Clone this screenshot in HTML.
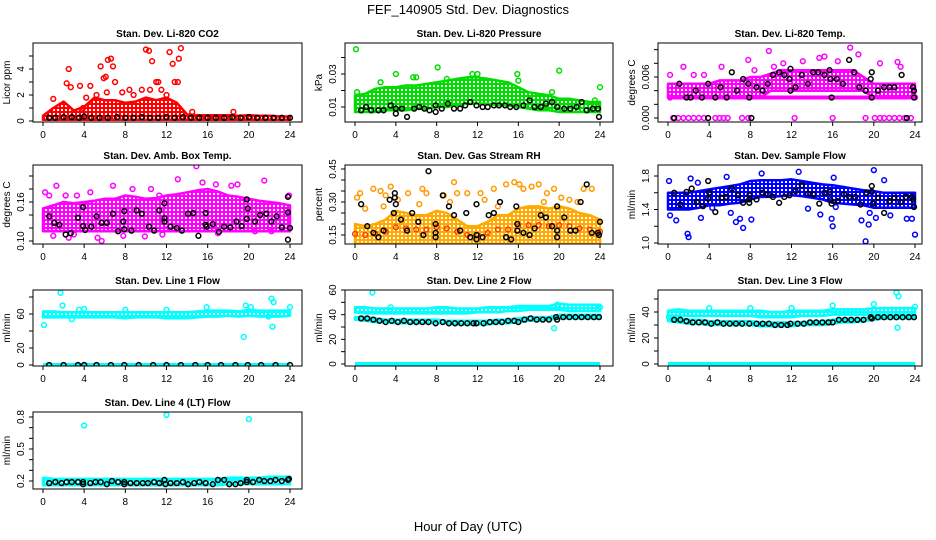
<!DOCTYPE html>
<html><head><meta charset="utf-8"><style>
html,body{margin:0;padding:0;background:#fff;}
svg{display:block;font-family:"Liberation Sans",sans-serif;}
</style></head><body>
<svg id="chart" width="936" height="540" viewBox="0 0 936 540">
<defs id="defs"></defs>
<text x="468" y="14" text-anchor="middle" font-size="13">FEF_140905  Std. Dev. Diagnostics</text>
<text x="468" y="531" text-anchor="middle" font-size="13">Hour of Day (UTC)</text>
</svg>
<script>
// ---- data (hourly band low/high, scatter points [hour,value], black points [hour,value]) ----
const hours = [0,1,2,3,4,5,6,7,8,9,10,11,12,13,14,15,16,17,18,19,20,21,22,23,24];
const co2Lo = [0.1,0.1,0.1,0.1,0.1,0.1,0.1,0.1,0.1,0.1,0.1,0.1,0.1,0.1,0.1,0.1,0.1,0.1,0.1,0.1,0.1,0.1,0.1,0.1,0.1];
const co2Hi = [0.4,1.0,1.5,0.8,1.1,1.8,1.6,1.6,1.4,1.5,1.8,1.6,1.8,1.4,0.5,0.45,0.45,0.45,0.45,0.4,0.45,0.4,0.4,0.35,0.35];
const co2Pts = [[1,1.7],[2.3,2.9],[2.5,4.0],[2.7,2.6],[3.6,2.7],[4.6,2.7],[5.6,4.2],[6.3,4.7],[6.6,4.8],[6.8,4.2],[5.9,3.3],[6.1,3.4],[7,3.0],[7.7,2.2],[8.4,2.4],[9.6,2.4],[10,5.5],[10.3,5.4],[10.6,4.6],[10.4,2.4],[11,3.0],[11.2,3.0],[11.5,2.4],[12.3,5.3],[12.6,4.4],[12.8,3.0],[13.1,3.0],[13.2,4.8],[13.4,5.6],[5.2,2.0],[6.2,2.2],[18.5,0.7],[4.2,1.8],[8.8,2.0],[12,2.0],[3.9,1.0],[14.5,0.7]];
const co2Blk = [[0.6,0.25],[1.2,0.25],[2,0.3],[2.8,0.3],[3.5,0.25],[4,0.35],[4.7,0.25],[5.5,0.25],[6.3,0.25],[7.2,0.3],[8,0.25],[8.8,0.25],[9.6,0.3],[10.4,0.25],[11.2,0.25],[12,0.3],[12.8,0.25],[13.6,0.3],[14.4,0.25],[15.2,0.25],[16,0.25],[16.8,0.25],[17.6,0.25],[18.4,0.3],[19.2,0.25],[20,0.3],[20.8,0.25],[21.6,0.25],[22.4,0.25],[23.2,0.25],[24,0.25]];

const prLo = [0.007,0.007,0.007,0.008,0.008,0.008,0.009,0.009,0.010,0.010,0.011,0.012,0.012,0.012,0.011,0.011,0.010,0.009,0.008,0.008,0.007,0.007,0.007,0.007,0.007];
const prHi = [0.017,0.018,0.021,0.022,0.022,0.023,0.023,0.024,0.025,0.026,0.027,0.028,0.028,0.027,0.026,0.025,0.022,0.019,0.018,0.017,0.015,0.015,0.014,0.013,0.013];
const prPts = [[0.1,0.045],[8.1,0.034],[4,0.030],[5.7,0.028],[6,0.028],[15.9,0.030],[20,0.032],[24,0.022],[0.2,0.019],[2.5,0.025],[9,0.027],[11.5,0.030],[12,0.030],[16,0.026],[19.3,0.019],[23.5,0.014]];
const prBlk = [[0.6,0.008],[1.1,0.010],[1.6,0.008],[2.3,0.008],[2.8,0.008],[3.5,0.011],[4,0.009],[4,0.006],[4.6,0.009],[5.1,0.004],[5.8,0.009],[6.3,0.010],[6.8,0.009],[7.3,0.008],[7.9,0.011],[7.9,0.007],[8.5,0.009],[9.1,0.012],[9.7,0.009],[10.3,0.009],[10.8,0.011],[11.3,0.013],[11.9,0.011],[12.5,0.010],[13,0.010],[13.6,0.011],[14.1,0.011],[14.7,0.011],[15.2,0.010],[15.8,0.010],[16.5,0.011],[17.1,0.014],[17.6,0.010],[18.2,0.010],[18.7,0.012],[19.3,0.013],[19.8,0.010],[20.5,0.009],[21.1,0.009],[21.7,0.010],[22.2,0.013],[22.7,0.008],[23.3,0.009],[23.8,0.009],[23.9,0.004]];

const tpLo = [0.003,0.003,0.003,0.003,0.003,0.003,0.003,0.003,0.003,0.003,0.004,0.004,0.004,0.004,0.004,0.004,0.004,0.004,0.004,0.004,0.003,0.003,0.003,0.003,0.003];
const tpHi = [0.005,0.005,0.005,0.005,0.005,0.0055,0.0055,0.0055,0.006,0.006,0.0065,0.007,0.007,0.007,0.007,0.007,0.007,0.007,0.007,0.006,0.005,0.005,0.005,0.005,0.005];
const tpPts = [[0.2,0.0063],[1.5,0.0075],[2.5,0.0063],[3.5,0.0063],[5.2,0.0075],[7.8,0.0085],[8.4,0.0070],[9.8,0.0098],[10.3,0.0075],[11.2,0.0080],[13.1,0.0083],[14.7,0.0088],[15.2,0.0090],[16.5,0.0083],[17.7,0.0103],[18.5,0.0093],[20.6,0.0080],[22.3,0.0082],[22.6,0.0075],[0.5,0],[1,0],[1.5,0],[2,0],[2.5,0],[3,0],[3.5,0],[4.6,0],[5,0],[5.4,0],[5.8,0],[7.2,0],[7.8,0],[12.3,0],[16,0],[19.2,0],[20.1,0],[20.6,0],[21,0],[21.5,0],[22,0],[22.5,0],[23,0],[23.6,0],[0.2,0.003],[24,0.003]];
const tpBlk = [[0.6,0],[1.1,0.005],[1.8,0.003],[2.2,0.003],[2.7,0.004],[3.3,0.003],[3.9,0.005],[3.9,0],[4.6,0.003],[5.1,0.0045],[5.7,0.003],[6.2,0.0067],[6.7,0.004],[7.3,0.0057],[7.8,0.005],[7.9,0.003],[8.1,0],[8.6,0.0045],[9.2,0.004],[9.7,0.005],[10.2,0.0063],[10.8,0.0067],[11.3,0.0063],[11.8,0.0057],[11.9,0.0072],[11.9,0.004],[12.4,0.0045],[13,0.0063],[13.6,0.005],[14.1,0.0067],[14.6,0.0067],[15.2,0.0063],[15.7,0.0070],[15.8,0.0057],[15.9,0.003],[16.4,0.0057],[17,0.005],[17.6,0.0085],[18.1,0.0067],[18.6,0.0045],[19.2,0.004],[19.8,0.0067],[19.7,0.0057],[19.8,0.003],[20.4,0.004],[21,0.0045],[21.5,0.0045],[22,0.0045],[22.7,0.0063],[23.2,0],[23.8,0.0045],[23.9,0.004],[23.9,0.003]];

const abLo = [0.115,0.115,0.115,0.115,0.115,0.115,0.115,0.115,0.115,0.115,0.115,0.115,0.115,0.115,0.115,0.115,0.115,0.115,0.115,0.115,0.115,0.115,0.115,0.115,0.115];
const abHi = [0.150,0.155,0.160,0.158,0.160,0.162,0.165,0.165,0.170,0.168,0.165,0.166,0.170,0.172,0.175,0.178,0.180,0.176,0.170,0.168,0.165,0.162,0.160,0.158,0.155];
const abPts = [[0.2,0.175],[1.3,0.185],[0.6,0.170],[2.5,0.105],[3.3,0.170],[5.3,0.105],[5.7,0.100],[6.8,0.185],[8.7,0.180],[13.1,0.195],[14.9,0.215],[15.5,0.190],[18.3,0.185],[18.9,0.187],[21.5,0.193],[10.5,0.180],[11.3,0.170],[16.8,0.187],[17,0.112],[1,0.108],[3,0.110],[7.8,0.108],[9.9,0.107],[11.6,0.110],[12,0.118],[20.6,0.115],[22.2,0.115],[4.6,0.175],[2.2,0.170],[23.9,0.170]];
const abBlk = [[0.6,0.138],[1.1,0.128],[1.6,0.125],[2.2,0.110],[2.7,0.112],[3.4,0.136],[3.9,0.152],[3.9,0.123],[4.1,0.117],[4.7,0.122],[5.2,0.138],[5.7,0.128],[6.2,0.128],[6.8,0.142],[7.3,0.115],[7.9,0.146],[7.8,0.130],[7.9,0.118],[8.6,0.116],[9.1,0.147],[9.6,0.142],[10.3,0.122],[10.8,0.116],[11.3,0.147],[11.8,0.158],[11.8,0.135],[11.8,0.130],[12.4,0.122],[13,0.120],[13.5,0.116],[14.1,0.142],[14.6,0.143],[15.1,0.108],[15.8,0.143],[15.8,0.125],[15.9,0.122],[16.5,0.126],[17.1,0.114],[17.6,0.122],[18.2,0.121],[18.8,0.130],[19.3,0.123],[19.8,0.164],[19.8,0.134],[19.9,0.150],[20.6,0.130],[21.1,0.140],[21.7,0.142],[22.2,0.130],[22.7,0.138],[23.2,0.121],[23.8,0.168],[23.8,0.144],[24,0.120],[23.8,0.102]];

const rhLo = [0.11,0.11,0.11,0.11,0.11,0.11,0.11,0.11,0.11,0.11,0.11,0.11,0.11,0.11,0.11,0.11,0.11,0.11,0.11,0.11,0.11,0.11,0.11,0.11,0.11];
const rhHi = [0.20,0.19,0.20,0.22,0.26,0.25,0.24,0.24,0.26,0.25,0.22,0.19,0.19,0.21,0.24,0.24,0.27,0.28,0.28,0.27,0.28,0.27,0.25,0.24,0.22];
const rhPts = [[0.2,0.32],[0.5,0.34],[1.8,0.36],[2.5,0.35],[3,0.33],[3.5,0.37],[4.2,0.31],[5.2,0.34],[6.6,0.36],[7,0.34],[8.7,0.33],[9.3,0.30],[9.7,0.39],[10,0.34],[11,0.34],[12.3,0.34],[13.6,0.36],[14.8,0.38],[15.6,0.39],[16.1,0.38],[16.5,0.36],[17.3,0.37],[18,0.38],[18.8,0.34],[19.5,0.36],[20.2,0.32],[21,0.31],[22.4,0.36],[23.2,0.36],[1,0.27],[2.8,0.28],[6.3,0.29],[12.7,0.31],[14,0.28],[18.5,0.30],[21.8,0.30]];
const rhBlk = [[0.6,0.29],[1.2,0.19],[1.8,0.16],[2.3,0.14],[2.8,0.17],[3.4,0.31],[3.9,0.32],[3.9,0.34],[4,0.29],[3.8,0.25],[4.5,0.22],[5.1,0.17],[5.6,0.25],[6.2,0.21],[6.7,0.15],[7.2,0.44],[7.9,0.20],[7.9,0.16],[7.9,0.14],[8.6,0.33],[9.2,0.28],[9.7,0.24],[10.3,0.17],[10.9,0.25],[11.3,0.14],[11.9,0.15],[11.9,0.29],[11.9,0.13],[12.5,0.14],[13.1,0.24],[13.6,0.25],[14.2,0.30],[14.8,0.14],[15.3,0.13],[15.8,0.28],[15.9,0.20],[15.9,0.17],[16.5,0.16],[17.1,0.15],[17.6,0.18],[18.2,0.24],[18.7,0.23],[19.3,0.19],[19.8,0.28],[19.8,0.17],[19.8,0.14],[20.5,0.23],[21.1,0.17],[21.6,0.17],[22.1,0.30],[22.7,0.38],[23.2,0.16],[23.8,0.16],[24,0.21],[23.9,0.15]];

const sfLo = [1.40,1.40,1.40,1.42,1.45,1.45,1.47,1.48,1.52,1.55,1.55,1.56,1.57,1.56,1.54,1.52,1.48,1.47,1.46,1.45,1.42,1.42,1.42,1.42,1.42];
const sfHi = [1.60,1.60,1.60,1.62,1.64,1.66,1.68,1.70,1.74,1.75,1.75,1.75,1.76,1.74,1.72,1.70,1.69,1.67,1.65,1.63,1.62,1.60,1.60,1.60,1.60];
const sfPts = [[0.1,1.74],[0.2,1.33],[0.8,1.27],[1.9,1.11],[2,1.07],[2.2,1.77],[3.2,1.30],[5.7,1.79],[6.1,1.36],[6.6,1.25],[7,1.29],[7.3,1.18],[8.1,1.28],[9.1,1.83],[12.7,1.85],[13.6,1.41],[14.8,1.34],[15.9,1.29],[16.1,1.78],[16,1.20],[16.3,1.43],[18.8,1.27],[19.2,1.02],[19.5,1.22],[20,1.87],[21,1.75],[21.6,1.33],[23.2,1.29],[23.7,1.29],[24,1.10],[19.6,1.36],[20.2,1.30],[2.9,1.72],[4.3,1.42]];
const sfBlk = [[0.6,1.60],[1.2,1.46],[1.8,1.61],[2.3,1.65],[2.8,1.49],[3.4,1.44],[3.9,1.74],[3.9,1.53],[4,1.60],[4.6,1.37],[5.2,1.54],[5.7,1.55],[6.2,1.65],[6.8,1.57],[7.3,1.48],[7.9,1.57],[7.9,1.52],[7.9,1.48],[8.6,1.52],[9.2,1.60],[9.7,1.58],[10.2,1.55],[10.8,1.48],[11.3,1.55],[11.8,1.57],[12.4,1.62],[13,1.69],[13.6,1.59],[14.1,1.58],[14.7,1.47],[15.2,1.60],[15.7,1.61],[15.8,1.51],[15.9,1.47],[16.5,1.50],[17.1,1.58],[17.6,1.55],[18.2,1.55],[18.7,1.46],[19.3,1.60],[19.8,1.68],[19.8,1.61],[19.9,1.47],[20.4,1.54],[21,1.36],[21.5,1.50],[22,1.54],[22.6,1.49],[23.1,1.55],[23.7,1.55],[23.8,1.52],[23.9,1.43]];

const l1Lo = [56,56,56,56,56,56,56,56,55,56,56,56,55,55,55,56,57,57,58,57,58,57,57,57,58];
const l1Hi = [63,63,62,62,62,62,62,62,62,62,62,62,62,62,62,63,64,64,64,63,65,64,64,64,64];
const l1Pts = [[0.1,47],[1.7,85],[1.9,70],[19.5,33],[19.7,70],[22.2,78],[22.4,74],[22.3,45],[24,68],[2.8,54],[3.5,65],[4,66],[8,65],[12,65],[15.9,68],[20.2,68],[21.9,57]];
const l1Blk = [[0.6,0],[2,0],[3.4,0],[4,0],[5.2,0],[6.6,0],[7.9,0],[9.3,0],[10.7,0],[12,0],[13.4,0],[14.8,0],[16,0],[17.3,0],[18.7,0],[19.9,0],[21.2,0],[22.6,0],[24,0]];

const l2Lo = [42,41,41,41,41,41,41,41,41,41,41,41,42,42,42,43,43,44,44,44,44,43,43,43,43];
const l2Hi = [46,46,45,45,45,45,45,45,46,46,45,45,45,46,46,46,47,47,47,47,49,48,48,48,48];
const l2Lo2 = [36,35,34,34,33,33,33,33,33,33,32,32,32,32,33,33,34,35,35,36,37,37,37,37,37];
const l2Hi2 = [38,38,37,36,36,36,36,36,36,35,35,35,35,35,36,36,37,38,38,38,40,40,40,40,40];
const l2Pts = [[1.7,58],[19.5,29],[3.5,46],[24,46],[19.8,48]];
const l2Blk = [[0.6,37],[1.2,37],[1.8,36],[2.4,35],[3,34],[3.6,35],[4.2,34],[4.8,35],[5.4,34],[6,34],[6.6,34],[7.2,34],[7.9,33],[8.6,34],[9.2,33],[9.8,33],[10.4,33],[11,33],[11.6,33],[11.9,33],[12.6,33],[13.2,34],[13.8,34],[14.4,34],[15,35],[15.6,35],[16,34],[16.6,36],[17.2,37],[17.8,36],[18.4,36],[19,36],[19.7,38],[19.8,36],[20.4,38],[21,38],[21.6,38],[22.2,38],[22.8,38],[23.4,38],[23.9,38]];

const l3Lo = [37,37,37,37,37,37,37,37,37,36,36,36,36,37,37,37,38,38,38,38,38,38,38,38,38];
const l3Hi = [41,42,41,41,41,41,41,41,41,41,40,40,41,41,41,41,42,42,42,42,43,43,43,43,43];
const l3Lo2 = [33,32,31,31,30,30,30,30,30,29,29,29,29,30,30,30,31,32,32,33,34,35,35,35,35];
const l3Hi2 = [35,35,34,34,33,33,33,33,33,32,32,32,32,32,33,33,34,35,35,35,36,37,37,37,37];
const l3Pts = [[22.2,55],[22.4,52],[22.3,28],[24,44],[20,46],[4,43],[8,43],[12,43],[16,45],[0.1,36]];
const l3Blk = [[0.6,34],[1.2,34],[1.8,33],[2.4,32],[3,32],[3.6,32],[4.2,31],[4.8,32],[5.4,31],[6,31],[6.6,31],[7.2,31],[7.9,31],[8.6,31],[9.2,31],[9.8,31],[10.4,30],[11,30],[11.6,30],[11.9,31],[12.6,31],[13.2,31],[13.8,32],[14.4,32],[15,32],[15.6,32],[16,32],[16.6,34],[17.2,34],[17.8,34],[18.4,34],[19,34],[19.7,36],[19.8,35],[20.4,36],[21,36],[21.6,36],[22.2,36],[22.8,36],[23.4,36],[23.9,36]];

const l4Lo = [0.16,0.16,0.16,0.16,0.16,0.16,0.16,0.16,0.16,0.16,0.16,0.16,0.16,0.16,0.16,0.16,0.16,0.16,0.17,0.17,0.17,0.17,0.17,0.17,0.17];
const l4Hi = [0.23,0.22,0.22,0.22,0.22,0.22,0.22,0.22,0.22,0.22,0.22,0.22,0.22,0.22,0.22,0.22,0.22,0.22,0.23,0.23,0.23,0.23,0.24,0.24,0.24];
const l4Pts = [[4,0.72],[12,0.82],[20,0.78]];
const l4Blk = [[0.6,0.18],[1.2,0.19],[1.8,0.18],[2.3,0.19],[2.8,0.19],[3.4,0.19],[3.9,0.19],[3.9,0.17],[4.6,0.18],[5.1,0.19],[5.6,0.19],[6.2,0.17],[6.7,0.20],[7.3,0.19],[7.9,0.19],[7.9,0.17],[8.5,0.18],[9.1,0.18],[9.7,0.18],[10.2,0.18],[10.8,0.19],[11.3,0.18],[11.8,0.21],[11.9,0.17],[12.4,0.18],[13,0.18],[13.6,0.19],[14.1,0.17],[14.7,0.18],[15.2,0.19],[15.8,0.18],[16.5,0.17],[17,0.21],[17.6,0.21],[18.1,0.17],[18.7,0.17],[19.2,0.18],[19.8,0.21],[19.8,0.19],[20.4,0.19],[21,0.21],[21.5,0.20],[22.1,0.20],[22.6,0.21],[23.2,0.20],[23.8,0.21],[23.9,0.22]];

const xTicks = [0,4,8,12,16,20,24];

// ---- layout ----
const cols = [{x0:43,x24:290,l:33,r:302},{x0:355,x24:600,l:345,r:613},{x0:668,x24:915,l:658,r:922}];
const rows = [{t:43,b:122},{t:165,b:244},{t:290,b:366},{t:412,b:489}];

const panels = [
 {name:'co2',title:'Stan. Dev. Li-820 CO2',ylab:'Licor ppm',c:0,r:0,ref:[0,121,4,69],ticks:[0,1,2,3,4,5],labels:[0,2,4],fmt:v=>String(v),col:'#ff0000',lo:co2Lo,hi:co2Hi,pts:co2Pts,blk:co2Blk},
 {name:'pressure',title:'Stan. Dev. Li-820 Pressure',ylab:'kPa',c:1,r:0,ref:[0.01,107,0.03,74],ticks:[0.01,0.02,0.03,0.04],labels:[0.01,0.03],fmt:v=>v.toFixed(2),col:'#00dd00',lo:prLo,hi:prHi,pts:prPts,blk:prBlk},
 {name:'temp',title:'Stan. Dev. Li-820 Temp.',ylab:'degrees C',c:2,r:0,ref:[0,118,0.006,77],ticks:[0,0.002,0.004,0.006,0.008,0.010],labels:[0,0.006],fmt:v=>v.toFixed(3),col:'#ff00ff',lo:tpLo,hi:tpHi,pts:tpPts,blk:tpBlk},
 {name:'amb-box-temp',title:'Stan. Dev. Amb. Box Temp.',ylab:'degrees C',c:0,r:1,ref:[0.10,241,0.16,202],ticks:[0.10,0.12,0.14,0.16,0.18,0.20],labels:[0.10,0.16],fmt:v=>v.toFixed(2),col:'#ff00ff',lo:abLo,hi:abHi,pts:abPts,blk:abBlk},
 {name:'gas-rh',title:'Stan. Dev. Gas Stream RH',ylab:'percent',c:1,r:1,ref:[0.15,235,0.45,169],ticks:[0.15,0.20,0.25,0.30,0.35,0.40,0.45],labels:[0.15,0.30,0.45],fmt:v=>v.toFixed(2),col:'#ffaa00',lo:rhLo,hi:rhHi,pts:rhPts,blk:rhBlk},
 {name:'sample-flow',title:'Stan. Dev. Sample Flow',ylab:'ml/min',c:2,r:1,ref:[1.0,243,1.8,176],ticks:[1.0,1.2,1.4,1.6,1.8],labels:[1.0,1.4,1.8],fmt:v=>v.toFixed(1),col:'#0000ff',lo:sfLo,hi:sfHi,pts:sfPts,blk:sfBlk},
 {name:'line1-flow',title:'Stan. Dev. Line 1 Flow',ylab:'ml/min',c:0,r:2,ref:[0,365,60,314],ticks:[0,20,40,60,80],labels:[0,20,60],fmt:v=>String(v),col:'#00ffff',lo:l1Lo,hi:l1Hi,pts:l1Pts,blk:l1Blk,zero:true},
 {name:'line2-flow',title:'Stan. Dev. Line 2 Flow',ylab:'ml/min',c:1,r:2,ref:[0,364,60,290],ticks:[0,10,20,30,40,50,60],labels:[0,20,40,60],fmt:v=>String(v),col:'#00ffff',lo:l2Lo,hi:l2Hi,lo2:l2Lo2,hi2:l2Hi2,pts:l2Pts,blk:l2Blk,zero:true},
 {name:'line3-flow',title:'Stan. Dev. Line 3 Flow',ylab:'ml/min',c:2,r:2,ref:[0,364,40,312],ticks:[0,10,20,30,40,50],labels:[0,20,40],fmt:v=>String(v),col:'#00ffff',lo:l3Lo,hi:l3Hi,lo2:l3Lo2,hi2:l3Hi2,pts:l3Pts,blk:l3Blk,zero:true},
 {name:'line4-flow',title:'Stan. Dev. Line 4 (LT) Flow',ylab:'ml/min',c:0,r:3,ref:[0.2,481,0.8,417],ticks:[0.2,0.3,0.4,0.5,0.6,0.7,0.8],labels:[0.2,0.5,0.8],fmt:v=>v.toFixed(1),col:'#00ffff',lo:l4Lo,hi:l4Hi,pts:l4Pts,blk:l4Blk}
];

const NS='http://www.w3.org/2000/svg';
const svg=document.getElementById('chart');
const defs=document.getElementById('defs');
function mk(tag,attrs,parent){const e=document.createElementNS(NS,tag);for(const k in attrs)e.setAttribute(k,attrs[k]);parent.appendChild(e);return e;}
const patIds={};
function pattern(color){
  if(patIds[color]) return patIds[color];
  const id='pat'+Object.keys(patIds).length;
  const p=mk('pattern',{id:id,width:4,height:4,patternUnits:'userSpaceOnUse'},defs);
  mk('rect',{x:0,y:0,width:4,height:4,fill:color},p);
  mk('rect',{x:1,y:1,width:2,height:2,fill:'#fff'},p);
  patIds[color]=id;return id;
}

panels.forEach(p=>{
  const C=cols[p.c],R=rows[p.r];
  const xs=h=>C.x0+(C.x24-C.x0)*h/24;
  const [v1,py1,v2,py2]=p.ref;
  const ys=v=>py1+(v-v1)*(py2-py1)/(v2-v1);
  const g=mk('g',{},svg);
  
  
  const clip=mk('clipPath',{id:'clip-'+p.name},g);
  mk('rect',{x:C.l,y:R.t,width:C.r-C.l,height:R.b-R.t},clip);
  const data=mk('g',{'clip-path':'url(#clip-'+p.name+')'},g);
  
  
  const pid=pattern(p.col);
  function band(lo,hi,color,nm){
    let d='M'+hours.map((h,i)=>xs(h).toFixed(1)+','+ys(hi[i]).toFixed(1)).join('L');
    d+='L'+hours.slice().reverse().map((h,j)=>{const i=hours.length-1-j;return xs(h).toFixed(1)+','+ys(lo[i]).toFixed(1);}).join('L')+'Z';
    const b=mk('path',{d:d,fill:'url(#'+pid+')',stroke:color,'stroke-width':2.5,'stroke-linejoin':'round'},data);
    
    
  }
  band(p.lo,p.hi,p.col,'dense-band-'+p.name);
  if(p.lo2) band(p.lo2,p.hi2,p.col,'dense-band-lower-'+p.name);
  if(p.zero){
    const z=mk('line',{x1:xs(0),x2:xs(24),y1:ys(0),y2:ys(0),stroke:p.col,'stroke-width':4},data);
    
    
  }
  if(p.name==='temp'){
    const q=mk('line',{x1:xs(0),x2:xs(24),y1:ys(0.003),y2:ys(0.003),stroke:p.col,'stroke-width':4},data);
    
    
  }
  if(p.name==='gas-rh'){
    hours.forEach((h,i)=>{
      const c=mk('circle',{cx:xs(h),cy:ys((p.lo[i]+p.hi[i])/2),r:2.4,fill:'none',stroke:'#ff3300','stroke-width':1.3},data);
      
      
    });
  }
  p.pts.forEach(pt=>{
    const c=mk('circle',{cx:xs(pt[0]),cy:ys(pt[1]),r:2.4,fill:'none',stroke:p.name==='gas-rh'?'#ff9900':p.col,'stroke-width':1.5},data);
    
    
  });
  p.blk.forEach(pt=>{
    const c=mk('circle',{cx:xs(pt[0]),cy:ys(pt[1]),r:2.4,fill:'none',stroke:'#000','stroke-width':1.5},data);
    
    
  });
  const box=mk('rect',{x:C.l,y:R.t,width:C.r-C.l,height:R.b-R.t,fill:'none',stroke:'#000','stroke-width':1},g);
  
  
  xTicks.forEach(t=>{
    mk('line',{x1:xs(t),x2:xs(t),y1:R.b,y2:R.b+4,stroke:'#000'},g);
    const tx=mk('text',{x:xs(t),y:R.b+16,'text-anchor':'middle','font-size':10},g);
    tx.textContent=t;
    
    
  });
  p.ticks.forEach(t=>{
    const y=ys(t); if(y<R.t-1||y>R.b+1) return;
    mk('line',{x1:C.l-4,x2:C.l,y1:y,y2:y,stroke:'#000'},g);
  });
  p.labels.forEach(t=>{
    const y=ys(t);
    const tx=mk('text',{x:0,y:0,'text-anchor':'middle','font-size':10,transform:'translate('+(C.l-9)+','+y+') rotate(-90)'},g);
    tx.textContent=p.fmt(t);
    
    
  });
  const yl=mk('text',{x:0,y:0,'text-anchor':'middle','font-size':10,transform:'translate('+(C.l-23)+','+((R.t+R.b)/2)+') rotate(-90)'},g);
  yl.textContent=p.ylab;
  
  
  const tt=mk('text',{x:(C.l+C.r)/2,y:R.t-6,'text-anchor':'middle','font-size':10,'font-weight':'bold'},g);
  tt.textContent=p.title;
  
  
});
</script>
</body></html>
